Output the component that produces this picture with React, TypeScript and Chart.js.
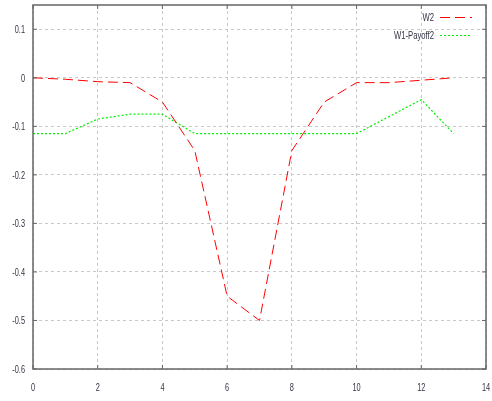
import React, { useEffect, useRef } from "react";
import { Chart, registerables } from "chart.js";

Chart.register(...registerables);

const xValues = [0, 1, 2, 3, 4, 5, 6, 7, 8, 9, 10, 11, 12, 13];
const w2 = [0, -0.003, -0.008, -0.01, -0.05, -0.15, -0.45, -0.5, -0.15, -0.05, -0.01, -0.01, -0.005, 0];
const w1Payoff2 = [-0.115, -0.115, -0.085, -0.075, -0.075, -0.115, -0.115, -0.115, -0.115, -0.115, -0.115, -0.08, -0.045, -0.115];
const seriesLabels = ["W2", "W1-Payoff2"];
const seriesColors = ["#ff0000", "#00ee00"];
const seriesDashes = [[10, 5], [2, 2]];

const FONT = "'Liberation Sans', Arial, sans-serif";
const TEXT_COLOR = "#333344";

function narrowText(ctx: any, text: string, x: number, y: number, align: string, size: number) {
  ctx.save();
  ctx.font = size + "px " + FONT;
  ctx.textAlign = align;
  ctx.textBaseline = "middle";
  ctx.fillStyle = TEXT_COLOR;
  ctx.translate(x, y);
  ctx.scale(0.7, 1);
  ctx.fillText(text, 0, 0);
  ctx.restore();
}

function fmtY(v: number) {
  const n = Math.round(v * 10) / 10;
  return n === 0 ? "0" : String(n);
}

const framePlugin = {
  id: "frame",
  afterDraw(chart: any) {
    const { ctx, chartArea: a, scales } = chart;
    ctx.save();
    ctx.strokeStyle = "#666";
    ctx.lineWidth = 1.5;
    ctx.setLineDash([]);
    ctx.strokeRect(a.left, a.top, a.right - a.left, a.bottom - a.top);
    ctx.lineWidth = 1;
    ctx.beginPath();
    scales.x.ticks.forEach((t: any) => {
      const px = scales.x.getPixelForValue(t.value);
      ctx.moveTo(px, a.bottom);
      ctx.lineTo(px, a.bottom - 4);
      ctx.moveTo(px, a.top);
      ctx.lineTo(px, a.top + 4);
    });
    scales.y.ticks.forEach((t: any) => {
      const py = scales.y.getPixelForValue(t.value);
      ctx.moveTo(a.left, py);
      ctx.lineTo(a.left + 4, py);
      ctx.moveTo(a.right, py);
      ctx.lineTo(a.right - 4, py);
    });
    ctx.stroke();
    ctx.restore();

    // tick labels
    scales.x.ticks.forEach((t: any) => {
      const px = scales.x.getPixelForValue(t.value);
      narrowText(ctx, String(t.value), px, a.bottom + 19, "center", 10.5);
    });
    scales.y.ticks.forEach((t: any) => {
      const py = scales.y.getPixelForValue(t.value);
      narrowText(ctx, fmtY(t.value), 25, py + 1, "right", 10.5);
    });

    // legend
    seriesLabels.forEach((lab, i) => {
      const y = 17.5 + i * 18;
      narrowText(ctx, lab, 434, y + 0.5, "right", 11);
      ctx.save();
      ctx.strokeStyle = seriesColors[i];
      ctx.lineWidth = 1;
      ctx.setLineDash(seriesDashes[i]);
      ctx.beginPath();
      ctx.moveTo(440, y);
      ctx.lineTo(472, y);
      ctx.stroke();
      ctx.restore();
    });
  },
};

function zeroPad(s: any) {
  s.paddingLeft = 0;
  s.paddingRight = 0;
  s.paddingTop = 0;
  s.paddingBottom = 0;
}

export default function App() {
  const ref = useRef<HTMLCanvasElement>(null);
  useEffect(() => {
    document.body.style.margin = "0";
    const chart = new Chart(ref.current!, {
      type: "line",
      data: {
        datasets: [
          {
            label: seriesLabels[0],
            data: xValues.map((x, i) => ({ x, y: w2[i] })),
            borderColor: seriesColors[0],
            borderWidth: 1,
            borderDash: seriesDashes[0],
            pointRadius: 0,
            tension: 0,
          },
          {
            label: seriesLabels[1],
            data: xValues.map((x, i) => ({ x, y: w1Payoff2[i] })),
            borderColor: seriesColors[1],
            borderWidth: 1.2,
            borderDash: seriesDashes[1],
            pointRadius: 0,
            tension: 0,
          },
        ],
      },
      options: {
        animation: false,
        responsive: false,
        maintainAspectRatio: false,
        layout: { padding: { top: 5, right: 6, left: 0, bottom: 0 } },
        plugins: { legend: { display: false }, tooltip: { enabled: false } },
        scales: {
          x: {
            type: "linear",
            min: 0,
            max: 14,
            ticks: { stepSize: 2, display: false },
            grid: { color: "#c8c8c8", drawTicks: false, tickLength: 0 },
            border: { display: false, dash: [3, 3] } as any,
            afterFit(s: any) { s.height = 32; zeroPad(s); },
          },
          y: {
            type: "linear",
            min: -0.6,
            max: 0.15,
            afterBuildTicks(s: any) {
              s.ticks = s.ticks.filter((t: any) => t.value <= 0.1001);
            },
            ticks: { stepSize: 0.1, display: false },
            grid: { color: "#c8c8c8", drawTicks: false, tickLength: 0 },
            border: { display: false, dash: [3, 3] } as any,
            afterFit(s: any) { s.width = 33; zeroPad(s); },
          },
        },
      },
      plugins: [framePlugin],
    });
    return () => chart.destroy();
  }, []);
  return (
    <div style={{ position: "absolute", left: 0, top: 0, width: 492, height: 401, background: "#fff" }}>
      <canvas ref={ref} width={492} height={401} style={{ width: 492, height: 401 }} />
    </div>
  );
}
